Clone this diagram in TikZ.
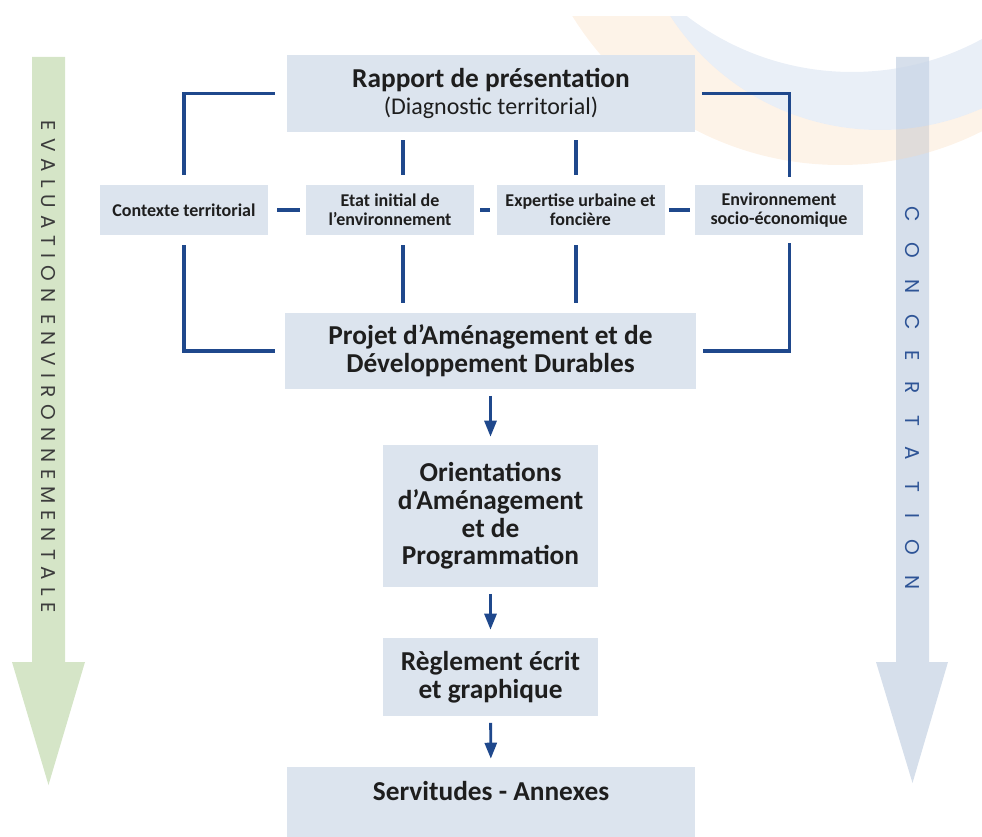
\documentclass[tikz,border=0pt]{standalone}
\usepackage{fontspec}
\setmainfont{Carlito}
\newfontfamily\spacedfont{Poppins}
\usetikzlibrary{arrows.meta}
\definecolor{boxfill}{RGB}{220,228,238}
\definecolor{linkblue}{RGB}{31,72,140}
\definecolor{evalgreen}{RGB}{213,229,199}
\definecolor{concblue}{RGB}{214,223,235}
\definecolor{textdark}{RGB}{30,30,30}
\definecolor{evaltext}{RGB}{60,60,60}
\definecolor{conctext}{RGB}{46,84,150}
\definecolor{markblue}{RGB}{200,214,234}
\definecolor{markorange}{RGB}{250,215,180}
\tikzset{
  box/.style={fill=boxfill, text=textdark, align=center, inner sep=0pt, font=\bfseries\fontsize{20.5}{20.8}\selectfont},
  smallbox/.style={box, minimum width=126pt, minimum height=37.5pt, font=\bfseries\fontsize{13.5}{14}\selectfont},
  link/.style={draw=linkblue, line width=2.4pt},
  flow/.style={draw=linkblue, line width=2.2pt, -{Triangle[length=12pt,width=9pt]}, shorten <=5pt, shorten >=6pt},
}
\begin{document}
\begin{tikzpicture}[x=0.75pt,y=-0.75pt]
\useasboundingbox (0,0) rectangle (982,837);
\fill[evalgreen] (32,57) -- (65,57) -- (65,662) -- (85,662) -- (48.5,785) -- (12,662) -- (32,662) -- cycle;
\fill[concblue] (896,57) -- (929,57) -- (929,662) -- (948,662) -- (912.5,783) -- (876,662) -- (896,662) -- cycle;
\begin{scope}
\clip (0,17) rectangle (982,837);
\fill[markorange, fill opacity=0.3, even odd rule] (840,-150) circle[radius=315] (880,-120) circle[radius=250];
\fill[markblue, fill opacity=0.4, even odd rule] (880,-120) circle[radius=250] (852,-200) circle[radius=272];
\end{scope}
\node[rotate=-90, text=evaltext, font={\spacedfont\fontsize{15}{15}\selectfont\addfontfeature{LetterSpace=35}}] (evaltitle) at (48.5,367) {EVALUATION ENVIRONNEMENTALE};
\node[rotate=-90, text=conctext, font={\spacedfont\fontsize{15}{15}\selectfont\addfontfeature{LetterSpace=105}}] (conctitle) at (912.5,398) {CONCERTATION};

\node[box, minimum width=306pt, minimum height=57.75pt] (rapport) at (491,93.5) {Rapport de présentation\\{\mdseries\fontsize{18}{20.8}\selectfont (Diagnostic territorial)}};
\node[smallbox] (contexte) at (184,210) {Contexte territorial};
\node[smallbox] (etat) at (390,210) {Etat initial de\\l’environnement};
\node[smallbox] (expertise) at (580.5,210) {Expertise urbaine et\\foncière};
\node[smallbox] (envsoc) at (779,210) {Environnement\\socio-économique};
\node[box, minimum width=308.25pt, minimum height=57pt] (projet) at (490.5,351) {Projet d’Aménagement et de\\Développement Durables};
\node[box, minimum width=161.25pt, minimum height=106.5pt] (orient) at (490.5,516) {Orientations\\d’Aménagement\\et de\\Programmation};
\node[box, minimum width=161.25pt, minimum height=58.5pt] (reglement) at (490.5,677) {Règlement écrit\\et graphique};
\node[box, minimum width=306pt, minimum height=52.5pt, text height=13pt, text depth=15.5pt] (servitudes) at (491,802) {Servitudes - Annexes};

\draw[link, shorten <=9pt, shorten >=7.5pt] (rapport.west) -| (contexte.north);
\draw[link, shorten <=7.5pt, shorten >=7.5pt] (contexte.south) |- (projet.west);
\draw[link, shorten <=5pt, shorten >=6pt] (rapport.east) -| ([xshift=8pt]envsoc.north);
\draw[link, shorten <=6pt, shorten >=5pt] ([xshift=8pt]envsoc.south) |- (projet.east);
\coordinate (leftdrop) at (403,0);
\coordinate (rightdrop) at (576,0);
\foreach \c in {leftdrop,rightdrop} {
  \draw[link, shorten <=6pt, shorten >=7.5pt] (\c |- rapport.south) -- (\c |- etat.north);
  \draw[link, shorten <=7.5pt, shorten >=7.5pt] (\c |- etat.south) -- (\c |- projet.north);
}
\draw[link, shorten <=6.75pt, shorten >=4.5pt] (contexte) -- (etat);
\draw[link, shorten <=4.5pt, shorten >=4.5pt] (etat) -- (expertise);
\draw[link, shorten <=3pt, shorten >=3.75pt] (expertise) -- (envsoc);
\draw[flow] (projet) -- (orient);
\draw[flow] (orient) -- (reglement);
\draw[flow] (reglement) -- (servitudes);
\end{tikzpicture}
\end{document}
